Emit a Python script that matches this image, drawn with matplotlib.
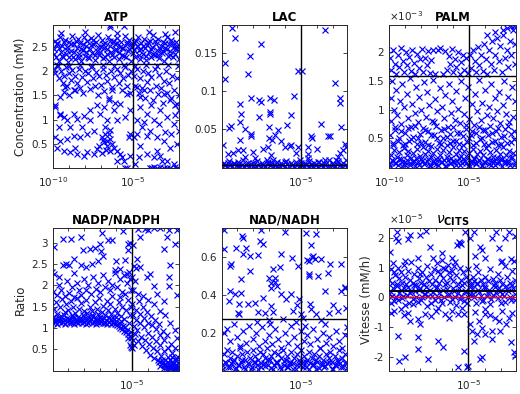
import matplotlib
matplotlib.use("Agg")
import matplotlib.pyplot as plt
import numpy as np
from matplotlib.ticker import FixedLocator, NullFormatter, FuncFormatter

# x values are stored as log10 exponents, y values in plotted units
# (PALM in 1e-3 mM, v_CITS in 1e-5 mM/h)

# ---------------- ATP ----------------
atp_band_logx = [-9.95, -9.88, -9.8, -9.72, -9.65, -9.57, -9.5, -9.42, -9.35, -9.27,
                 -9.2, -9.12, -9.05, -8.97, -8.9, -8.82, -8.75, -8.67, -8.6, -8.52,
                 -8.45, -8.37, -8.3, -8.22, -8.15, -8.07, -8.0, -7.92, -7.85, -7.77,
                 -7.7, -7.62, -7.55, -7.47, -7.4, -7.32, -7.25, -7.17, -7.1, -7.02,
                 -6.95, -6.87, -6.8, -6.72, -6.65, -6.57, -6.5, -6.42, -6.35, -6.27,
                 -6.2, -6.12, -6.05, -5.97, -5.9, -5.82, -5.75, -5.67, -5.6, -5.52,
                 -5.45, -5.37, -5.3, -5.22, -5.15, -5.07, -5.0, -4.92, -4.85, -4.77,
                 -4.7, -4.62, -4.55, -4.47, -4.4, -4.32, -4.25, -4.17, -4.1, -4.02,
                 -3.95, -3.87, -3.8, -3.72, -3.65, -3.57, -3.5, -3.42, -3.35, -3.27,
                 -3.2, -3.12, -3.05, -2.97, -2.9, -2.82, -2.75, -2.67, -2.6, -2.52,
                 -2.45, -2.37, -2.3, -2.22, -2.15]
atp_band_y = [2.45, 2.62, 2.3, 2.55, 2.2, 2.7, 2.4, 2.52, 2.28, 2.65,
              2.36, 2.5, 2.18, 2.6, 2.42, 2.72, 2.3, 2.55, 2.25, 2.48,
              2.66, 2.35, 2.58, 2.2, 2.44, 2.7, 2.32, 2.52, 2.62, 2.27,
              2.46, 2.68, 2.38, 2.56, 2.22, 2.6, 2.42, 2.75, 2.33, 2.5,
              2.64, 2.26, 2.47, 2.58, 2.36, 2.7, 2.2, 2.52, 2.4, 2.62,
              2.3, 2.55, 2.45, 2.68, 2.24, 2.5, 2.6, 2.34, 2.48, 2.72,
              2.28, 2.56, 2.42, 2.64, 2.2, 2.5, 2.38, 2.6, 2.3, 2.52,
              2.7, 2.44, 2.25, 2.58, 2.36, 2.66, 2.48, 2.22, 2.54, 2.4,
              2.62, 2.3, 2.5, 2.74, 2.34, 2.56, 2.44, 2.66, 2.26, 2.52,
              2.38, 2.6, 2.2, 2.48, 2.7, 2.32, 2.55, 2.42, 2.64, 2.28,
              2.5, 2.36, 2.6, 2.45, 2.25]
atp_band2_logx = [-9.92, -9.75, -9.6, -9.45, -9.3, -9.15, -9.0, -8.85, -8.7, -8.55,
                  -8.4, -8.25, -8.1, -7.95, -7.8, -7.65, -7.5, -7.35, -7.2, -7.05,
                  -6.9, -6.75, -6.6, -6.45, -6.3, -6.15, -6.0, -5.85, -5.7, -5.55,
                  -5.4, -5.25, -5.1, -4.95, -4.8, -4.65, -4.5, -4.35, -4.2, -4.05,
                  -3.9, -3.75, -3.6, -3.45, -3.3, -3.15, -3.0, -2.85, -2.7, -2.55,
                  -2.4, -2.25]
atp_band2_y = [2.35, 2.58, 2.48, 2.32, 2.6, 2.44, 2.3, 2.56, 2.4, 2.62,
               2.28, 2.46, 2.56, 2.4, 2.3, 2.54, 2.64, 2.34, 2.5, 2.4,
               2.56, 2.3, 2.46, 2.62, 2.34, 2.44, 2.58, 2.38, 2.48, 2.32,
               2.6, 2.46, 2.56, 2.44, 2.62, 2.34, 2.46, 2.52, 2.32, 2.6,
               2.46, 2.36, 2.62, 2.34, 2.46, 2.42, 2.58, 2.46, 2.34, 2.58,
               2.46, 2.52]
atp_mid = [(-9.95, 2.05), (-9.85, 1.95), (-9.7, 2.1), (-9.6, 1.85), (-9.5, 2.0), (-9.4, 1.75),
           (-9.3, 1.9), (-9.2, 2.08), (-9.1, 1.7), (-9.0, 1.95), (-8.9, 1.82), (-8.8, 2.02),
           (-8.7, 1.6), (-8.6, 1.9), (-8.5, 1.75), (-8.4, 2.05), (-8.3, 1.65), (-8.2, 1.88),
           (-8.1, 1.55), (-8.0, 2.0), (-7.9, 1.78), (-7.8, 1.95), (-7.7, 1.62), (-7.6, 2.08),
           (-7.5, 1.85), (-7.4, 1.7), (-7.3, 1.98), (-7.2, 1.5), (-7.1, 1.9), (-7.0, 1.72),
           (-6.9, 2.05), (-6.8, 1.58), (-6.7, 1.92), (-6.6, 1.8), (-6.5, 1.45), (-6.4, 2.0),
           (-6.3, 1.68), (-6.2, 1.88), (-6.1, 1.35), (-6.0, 2.05), (-5.9, 1.75), (-5.8, 1.95),
           (-5.7, 1.6), (-5.6, 1.85), (-5.5, 2.08), (-5.4, 1.7), (-5.3, 1.92), (-5.2, 1.55),
           (-5.1, 2.0), (-4.95, 1.9), (-4.85, 1.7), (-4.75, 2.05), (-4.65, 1.55), (-4.55, 1.85),
           (-4.45, 1.65), (-4.35, 2.0), (-4.25, 1.45), (-4.15, 1.78), (-4.05, 1.95), (-3.95, 1.6),
           (-3.85, 1.88), (-3.75, 1.4), (-3.65, 2.05), (-3.55, 1.7), (-3.45, 1.52), (-3.35, 1.92),
           (-3.25, 1.65), (-3.15, 1.35), (-3.05, 1.8), (-2.95, 2.0), (-2.85, 1.55), (-2.75, 1.75),
           (-2.65, 1.45), (-2.55, 1.9), (-2.45, 1.6), (-2.35, 1.3), (-2.25, 1.85), (-2.15, 1.5),
           (-9.75, 2.12), (-9.0, 2.1), (-8.3, 2.12), (-7.55, 2.1), (-6.85, 2.13), (-6.2, 2.1),
           (-5.55, 2.12), (-4.9, 2.1), (-4.2, 2.13), (-3.5, 2.1), (-2.8, 2.12), (-2.2, 2.1),
           (-6.42, 2.95), (-6.42, 2.9), (-5.54, 2.93), (-9.5, 2.78), (-8.0, 2.8), (-6.0, 2.78),
           (-4.0, 2.8), (-3.0, 2.77), (-2.4, 2.8)]
atp_low = [(-9.85, 1.26), (-9.54, 1.12), (-9.58, 1.1), (-9.33, 1.05), (-9.65, 0.84), (-9.13, 0.98),
           (-8.71, 1.12), (-8.5, 1.01), (-8.08, 1.08), (-7.67, 1.19), (-7.25, 1.29), (-7.04, 1.12),
           (-6.63, 0.98), (-6.73, 0.84), (-6.52, 0.7), (-6.42, 0.6), (-6.31, 0.49), (-6.21, 0.42),
           (-6.0, 0.35), (-5.79, 0.28), (-5.69, 0.22), (-5.58, 0.15), (-5.48, 0.01), (-6.94, 0.63),
           (-6.83, 0.53), (-6.63, 0.46), (-7.46, 0.77), (-7.88, 0.7), (-8.29, 0.63), (-8.71, 0.67),
           (-9.13, 0.6), (-9.54, 0.56), (-9.85, 0.63), (-9.75, 0.42), (-9.33, 0.35), (-8.92, 0.32),
           (-8.5, 0.28), (-8.08, 0.25), (-7.88, 0.32), (-8.6, 0.42), (-7.46, 0.28), (-7.25, 0.39),
           (-6.42, 0.35), (-5.17, 0.7), (-5.27, 0.63), (-5.17, 0.25), (-6.0, 0.15), (-5.38, 0.01),
           (-9.23, 1.67), (-9.33, 1.57), (-9.02, 1.5), (-8.6, 1.6), (-6.31, 1.6), (-6.52, 1.4),
           (-6.83, 1.26), (-6.21, 1.19), (-5.79, 1.33), (-5.38, 1.53), (-9.54, 1.47), (-9.9, 1.3),
           (-7.67, 0.98), (-8.19, 0.84), (-8.92, 0.84), (-6.0, 0.98), (-5.48, 1.05), (-5.17, 1.19),
           (-6.9, 0.58), (-6.75, 0.7), (-6.6, 0.55), (-6.45, 0.78), (-7.1, 0.45), (-6.95, 0.3),
           (-6.7, 0.38)]
atp_right_low = [(-4.75, 1.67), (-4.54, 1.47), (-4.33, 1.6), (-3.08, 1.53), (-2.67, 1.4), (-2.25, 1.33),
                 (-4.54, 1.26), (-4.13, 1.12), (-3.71, 0.98), (-3.29, 1.19), (-2.88, 1.05), (-2.46, 0.91),
                 (-2.15, 0.77), (-4.75, 0.98), (-4.44, 0.84), (-3.92, 0.77), (-3.5, 0.63), (-3.08, 0.56),
                 (-2.67, 0.42), (-2.25, 0.49), (-4.54, 0.46), (-4.13, 0.28), (-3.71, 0.22), (-3.29, 0.25),
                 (-2.88, 0.15), (-2.46, 0.08), (-3.92, 0.01), (-3.5, 0.01), (-3.08, 0.01), (-2.67, 0.01),
                 (-2.25, 0.01), (-4.65, 0.22), (-4.85, 0.08), (-2.15, 1.19), (-4.96, 0.63), (-2.98, 0.74),
                 (-4.12, 0.67), (-3.5, 0.35), (-3.19, 0.15), (-3.81, 0.01), (-3.67, 0.02), (-3.29, 0.02),
                 (-2.88, 0.0), (-2.35, 0.02), (-4.75, 0.7), (-3.9, 1.3), (-3.4, 0.9), (-2.6, 0.7),
                 (-4.3, 0.95), (-2.4, 1.1)]

# ---------------- LAC ----------------
lac_sparse = [(-9.29, 0.1825), (-9.13, 0.1693), (-7.46, 0.1618), (-8.15, 0.146), (-9.75, 0.1364),
              (-8.29, 0.1232), (-9.75, 0.1154), (-5.17, 0.1268), (-4.92, 0.1268), (-3.46, 0.1803),
              (-2.83, 0.111), (-2.56, 0.0904), (-2.56, 0.0847), (-8.13, 0.0912), (-7.63, 0.089),
              (-7.46, 0.0855), (-6.94, 0.0912), (-6.67, 0.0882), (-5.42, 0.0934), (-8.77, 0.0829),
              (-8.71, 0.0706), (-6.94, 0.0728), (-6.94, 0.0697), (-7.63, 0.0662), (-5.58, 0.0684),
              (-8.81, 0.0596), (-9.33, 0.054), (-9.48, 0.0522), (-8.5, 0.0509), (-6.98, 0.0531),
              (-5.85, 0.0561), (-8.08, 0.0443), (-8.08, 0.0412), (-6.42, 0.0487), (-6.63, 0.0421),
              (-3.71, 0.0566), (-4.33, 0.0412), (-4.29, 0.039), (-3.29, 0.0408), (-3.19, 0.0408),
              (-2.46, 0.0531), (-9.85, 0.0289), (-8.81, 0.0364), (-7.0, 0.039), (-6.79, 0.0364),
              (-6.25, 0.0346), (-8.6, 0.0232), (-8.92, 0.0224), (-9.23, 0.0189), (-9.54, 0.018),
              (-7.98, 0.0202), (-7.88, 0.0127), (-7.35, 0.0246), (-7.04, 0.0268), (-6.0, 0.0268),
              (-5.69, 0.0276), (-5.58, 0.0289), (-5.17, 0.0268), (-4.54, 0.0268), (-3.96, 0.0246),
              (-4.54, 0.018), (-4.54, 0.0127), (-5.27, 0.0189), (-8.5, 0.0136), (-6.83, 0.0158),
              (-6.73, 0.0101), (-2.25, 0.0311), (-2.15, 0.0268), (-2.35, 0.0224), (-2.56, 0.0189),
              (-2.67, 0.0136), (-2.77, 0.0092), (-3.5, 0.0092), (-3.92, 0.007), (-7.04, 0.007),
              (-9.54, 0.0057), (-8.92, 0.0048), (-8.08, 0.0048), (-6.0, 0.007), (-4.96, 0.0057),
              (-4.33, 0.0039)]
lac_floor_logx = [-9.9, -9.75, -9.6, -9.45, -9.3, -9.15, -9.0, -8.85, -8.7, -8.55,
                  -8.4, -8.25, -8.1, -7.95, -7.8, -7.65, -7.5, -7.35, -7.2, -7.05,
                  -6.9, -6.75, -6.6, -6.45, -6.3, -6.15, -6.0, -5.85, -5.7, -5.55,
                  -5.4, -5.25, -5.1, -4.95, -4.8, -4.65, -4.5, -4.35, -4.2, -4.05,
                  -3.9, -3.75, -3.6, -3.45, -3.3, -3.15, -3.0, -2.85, -2.7, -2.55,
                  -2.4, -2.25, -2.12]
lac_floor_y = [0.002, 0.0035, 0.001, 0.003, 0.0015, 0.004, 0.0025, 0.001, 0.0035, 0.002,
               0.003, 0.0012, 0.0038, 0.0022, 0.0015, 0.0032, 0.001, 0.0028, 0.0018, 0.004,
               0.0025, 0.0012, 0.0034, 0.002, 0.0015, 0.003, 0.0022, 0.0038, 0.001, 0.0026,
               0.0018, 0.0033, 0.0012, 0.0028, 0.002, 0.0036, 0.0015, 0.0024, 0.001, 0.0031,
               0.0019, 0.0027, 0.0014, 0.0035, 0.0022, 0.001, 0.003, 0.0017, 0.0038, 0.0025,
               0.0012, 0.0032, 0.002]
lac_floor2 = [(-9.82, 0.006), (-9.5, 0.008), (-9.2, 0.005), (-8.9, 0.007), (-8.6, 0.009), (-8.3, 0.006),
              (-8.0, 0.005), (-7.7, 0.008), (-7.4, 0.006), (-7.1, 0.009), (-6.8, 0.005), (-6.5, 0.007),
              (-6.2, 0.006), (-5.9, 0.008), (-5.6, 0.005), (-5.3, 0.007), (-5.05, 0.009), (-4.75, 0.006),
              (-4.45, 0.008), (-4.15, 0.005), (-3.85, 0.007), (-3.55, 0.006), (-3.25, 0.009),
              (-2.95, 0.005), (-2.65, 0.008), (-2.35, 0.006), (-2.15, 0.009)]

# ---------------- PALM (x 1e-3) ----------------
palm_bot_logx = [-9.97, -9.88, -9.8, -9.7, -9.62, -9.52, -9.43, -9.35, -9.25, -9.16,
                 -9.07, -8.98, -8.9, -8.8, -8.71, -8.62, -8.53, -8.44, -8.35, -8.26,
                 -8.17, -8.08, -7.99, -7.9, -7.81, -7.72, -7.63, -7.54, -7.45, -7.36,
                 -7.27, -7.18, -7.09, -7.0, -6.91, -6.82, -6.73, -6.64, -6.55, -6.46,
                 -6.37, -6.28, -6.19, -6.1, -6.01, -5.92, -5.83, -5.74, -5.65, -5.56,
                 -5.47, -5.38, -5.29, -5.2, -5.11, -5.02, -4.93, -4.84, -4.75, -4.66,
                 -4.57, -4.48, -4.39, -4.3, -4.21, -4.12, -4.03, -3.94, -3.85, -3.76,
                 -3.67, -3.58, -3.49, -3.4, -3.31, -3.22, -3.13, -3.04, -2.95, -2.86,
                 -2.77, -2.68, -2.59, -2.5, -2.41, -2.32, -2.23, -2.14]
palm_bot_y = [0.05, 0.21, 0.12, 0.3, 0.07, 0.18, 0.03, 0.26, 0.14, 0.09,
              0.33, 0.04, 0.2, 0.27, 0.06, 0.16, 0.24, 0.11, 0.02, 0.31,
              0.08, 0.19, 0.13, 0.35, 0.05, 0.23, 0.1, 0.28, 0.03, 0.17,
              0.25, 0.07, 0.14, 0.32, 0.04, 0.21, 0.09, 0.29, 0.12, 0.02,
              0.18, 0.26, 0.06, 0.15, 0.34, 0.08, 0.22, 0.11, 0.3, 0.04,
              0.19, 0.13, 0.27, 0.06, 0.17, 0.24, 0.02, 0.1, 0.31, 0.15,
              0.07, 0.23, 0.12, 0.28, 0.04, 0.2, 0.09, 0.33, 0.14, 0.05,
              0.26, 0.11, 0.18, 0.03, 0.29, 0.16, 0.08, 0.22, 0.13, 0.35,
              0.06, 0.2, 0.1, 0.27, 0.03, 0.17, 0.24, 0.09]
palm_bot2_logx = [-9.93, -9.75, -9.57, -9.39, -9.21, -9.03, -8.85, -8.67, -8.49, -8.31,
                  -8.13, -7.95, -7.77, -7.59, -7.41, -7.23, -7.05, -6.87, -6.69, -6.51,
                  -6.33, -6.15, -5.97, -5.79, -5.61, -5.43, -5.25, -5.07, -4.89, -4.71,
                  -4.53, -4.35, -4.17, -3.99, -3.81, -3.63, -3.45, -3.27, -3.09, -2.91,
                  -2.73, -2.55, -2.37, -2.19]
palm_bot2_y = [0.02, 0.1, 0.06, 0.14, 0.01, 0.08, 0.12, 0.04, 0.09, 0.15,
               0.03, 0.11, 0.07, 0.13, 0.02, 0.1, 0.05, 0.14, 0.08, 0.01,
               0.12, 0.06, 0.1, 0.03, 0.15, 0.07, 0.11, 0.02, 0.09, 0.13,
               0.05, 0.12, 0.01, 0.08, 0.14, 0.04, 0.1, 0.06, 0.13, 0.02,
               0.11, 0.07, 0.15, 0.04]
palm_mid = [(-9.95, 0.55), (-9.9, 1.2), (-9.85, 0.8), (-9.8, 1.5), (-9.72, 0.42), (-9.66, 1.0),
            (-9.6, 0.65), (-9.55, 1.35), (-9.48, 0.9), (-9.4, 0.5), (-9.33, 1.15), (-9.27, 0.75),
            (-9.2, 1.45), (-9.12, 0.38), (-9.05, 1.05), (-8.98, 0.6), (-8.9, 1.28), (-8.83, 0.85),
            (-8.77, 0.45), (-8.7, 1.55), (-8.62, 0.7), (-8.55, 1.1), (-8.48, 0.52), (-8.4, 0.95),
            (-8.33, 1.4), (-8.26, 0.4), (-8.2, 0.78), (-8.12, 1.22), (-8.05, 0.58), (-7.98, 1.0),
            (-7.9, 0.68), (-7.83, 1.48), (-7.76, 0.44), (-7.7, 0.88), (-7.62, 1.3), (-7.55, 0.62),
            (-7.48, 1.08), (-7.4, 0.36), (-7.33, 0.8), (-7.26, 1.52), (-7.2, 0.55), (-7.12, 1.18),
            (-7.05, 0.72), (-6.98, 0.98), (-6.9, 0.42), (-6.83, 1.38), (-6.76, 0.64), (-6.7, 1.05),
            (-6.62, 0.5), (-6.55, 0.86), (-6.48, 1.25), (-6.4, 0.38), (-6.33, 0.7), (-6.26, 1.45),
            (-6.2, 0.58), (-6.12, 0.95), (-6.05, 1.15), (-5.98, 0.46), (-5.9, 0.82), (-5.83, 1.32),
            (-5.76, 0.6), (-5.7, 1.02), (-5.62, 0.4), (-5.55, 0.76), (-5.48, 1.5), (-5.4, 0.54),
            (-5.33, 0.92), (-5.26, 1.2), (-5.2, 0.66), (-5.12, 0.44), (-5.05, 1.4), (-4.98, 0.84),
            (-4.9, 0.56), (-4.83, 1.1), (-4.76, 0.38), (-4.7, 0.74), (-4.62, 1.28), (-4.55, 0.6),
            (-4.48, 0.98), (-4.4, 1.52), (-4.33, 0.48), (-4.26, 0.82), (-4.2, 1.12), (-4.12, 0.64),
            (-4.05, 0.4), (-3.98, 1.35), (-3.9, 0.9), (-3.83, 0.56), (-3.76, 1.05), (-3.7, 0.72),
            (-3.62, 1.45), (-3.55, 0.44), (-3.48, 0.86), (-3.4, 1.2), (-3.33, 0.62), (-3.26, 0.98),
            (-3.2, 0.38), (-3.12, 1.3), (-3.05, 0.76), (-2.98, 0.52), (-2.9, 1.08), (-2.83, 1.5),
            (-2.76, 0.66), (-2.7, 0.92), (-2.62, 0.42), (-2.55, 1.22), (-2.48, 0.78), (-2.4, 0.58),
            (-2.33, 1.4), (-2.26, 0.88), (-2.2, 0.48), (-2.13, 1.15),
            (-9.78, 0.38), (-9.6, 0.7), (-9.42, 0.45), (-9.22, 0.62), (-9.0, 0.4), (-8.8, 0.68),
            (-8.6, 0.48), (-8.38, 0.72), (-8.18, 0.5), (-7.97, 0.42), (-7.78, 0.64), (-7.58, 0.38),
            (-7.38, 0.56), (-7.18, 0.78), (-6.97, 0.5), (-6.78, 0.4), (-6.58, 0.66), (-6.38, 0.52),
            (-6.17, 0.42), (-5.97, 0.7), (-5.78, 0.46), (-5.58, 0.6), (-5.38, 0.38), (-5.18, 0.74),
            (-4.97, 0.5), (-4.78, 0.62), (-4.58, 0.42), (-4.38, 0.7), (-4.17, 0.5), (-3.97, 0.64),
            (-3.78, 0.38), (-3.58, 0.6), (-3.38, 0.46), (-3.18, 0.68), (-2.98, 0.4), (-2.78, 0.54),
            (-2.58, 0.72), (-2.38, 0.44), (-2.18, 0.62)]
palm_top = [(-9.95, 1.9), (-9.85, 1.7), (-9.75, 2.05), (-9.65, 1.8), (-9.55, 1.62), (-9.45, 1.95),
            (-9.35, 1.75), (-9.25, 2.08), (-9.15, 1.85), (-9.05, 1.65), (-8.95, 2.0), (-8.85, 1.78),
            (-8.75, 1.92), (-8.65, 1.68), (-8.55, 2.05), (-8.45, 1.82), (-8.35, 1.62), (-8.25, 1.98),
            (-8.15, 1.72), (-8.05, 1.88), (-7.95, 2.06), (-7.85, 1.66), (-7.75, 1.9), (-7.65, 1.78),
            (-7.55, 2.02), (-7.45, 1.64), (-7.35, 1.86), (-7.25, 2.05), (-7.1, 1.62), (-6.95, 2.04),
            (-6.8, 2.07), (-6.65, 1.63), (-6.5, 2.02), (-6.38, 1.7), (-6.28, 1.94), (-6.18, 1.8),
            (-6.08, 2.06), (-5.98, 1.66), (-5.88, 1.88), (-5.78, 1.74), (-5.68, 2.0), (-5.58, 1.62),
            (-5.48, 1.84), (-5.38, 1.96), (-5.28, 1.7), (-5.18, 1.9), (-5.08, 1.64),
            (-4.95, 1.95), (-4.85, 1.72), (-4.75, 2.05), (-4.65, 1.85), (-4.55, 1.65), (-4.45, 2.1),
            (-4.35, 1.78), (-4.25, 1.95), (-4.15, 1.68), (-4.05, 2.15), (-3.95, 1.88), (-3.85, 1.62),
            (-3.75, 2.05), (-3.65, 1.8), (-3.55, 2.2), (-3.45, 1.7), (-3.35, 1.95), (-3.25, 2.25),
            (-3.15, 1.85), (-3.05, 2.12), (-2.95, 1.65), (-2.85, 2.3), (-2.75, 1.9), (-2.65, 2.05),
            (-2.55, 1.75), (-2.45, 2.2), (-2.35, 1.95), (-2.25, 2.4), (-2.15, 1.8), (-2.12, 2.15),
            (-3.9, 2.3), (-3.4, 2.35), (-2.6, 2.42), (-2.4, 2.46), (-2.2, 2.47), (-2.9, 2.4)]

# ---------------- NADP/NADPH ----------------
nadp_floor_logx = [-9.9, -9.78, -9.66, -9.54, -9.42, -9.3, -9.18, -9.06, -8.94, -8.82,
                   -8.7, -8.58, -8.46, -8.34, -8.22, -8.1, -7.98, -7.86, -7.74, -7.62,
                   -7.5, -7.38, -7.26, -7.14, -7.02, -6.9, -6.78, -6.66, -6.54, -6.42,
                   -6.3, -6.18, -6.06, -5.94, -5.82, -5.7, -5.58, -5.46, -5.34, -5.22,
                   -5.1, -5.02]
nadp_floor_y = [1.1, 1.14, 1.09, 1.16, 1.11, 1.13, 1.09, 1.15, 1.1, 1.12,
                1.17, 1.09, 1.13, 1.11, 1.15, 1.1, 1.14, 1.09, 1.12, 1.16,
                1.1, 1.13, 1.09, 1.15, 1.11, 1.14, 1.1, 1.12, 1.09, 1.13,
                1.08, 1.11, 1.08, 1.06, 1.03, 1.0, 0.97, 0.93, 0.89, 0.85,
                0.8, 0.76]
nadp_dense = [(-9.95, 1.25), (-9.88, 1.45), (-9.8, 1.2), (-9.72, 1.6), (-9.65, 1.32), (-9.57, 1.22),
              (-9.5, 1.5), (-9.42, 1.28), (-9.35, 1.68), (-9.27, 1.2), (-9.2, 1.38), (-9.12, 1.55),
              (-9.05, 1.24), (-8.97, 1.42), (-8.9, 1.2), (-8.82, 1.62), (-8.75, 1.3), (-8.67, 1.48),
              (-8.6, 1.22), (-8.52, 1.35), (-8.45, 1.7), (-8.37, 1.26), (-8.3, 1.45), (-8.22, 1.2),
              (-8.15, 1.58), (-8.07, 1.3), (-8.0, 1.4), (-7.92, 1.22), (-7.85, 1.65), (-7.77, 1.34),
              (-7.7, 1.25), (-7.62, 1.5), (-7.55, 1.2), (-7.47, 1.4), (-7.4, 1.28), (-7.32, 1.6),
              (-7.25, 1.22), (-7.17, 1.45), (-7.1, 1.32), (-7.02, 1.7), (-6.95, 1.25), (-6.87, 1.38),
              (-6.8, 1.52), (-6.72, 1.22), (-6.65, 1.3), (-6.57, 1.62), (-6.5, 1.42), (-6.42, 1.24),
              (-6.35, 1.55), (-6.27, 1.32), (-6.2, 1.75), (-6.12, 1.2), (-6.05, 1.45), (-5.97, 1.15),
              (-5.9, 1.35), (-5.82, 1.6), (-5.75, 1.1), (-5.67, 1.28), (-5.6, 1.5), (-5.52, 1.05),
              (-5.45, 1.2), (-5.37, 1.42), (-5.3, 0.95), (-5.22, 1.65), (-5.15, 1.1), (-5.1, 1.3),
              (-5.05, 0.9), (-5.02, 1.5), (-9.85, 1.18), (-9.6, 1.19), (-9.25, 1.3), (-8.95, 1.18),
              (-8.7, 1.25), (-8.4, 1.18), (-8.1, 1.2), (-7.8, 1.18), (-7.5, 1.3), (-7.2, 1.18),
              (-6.9, 1.2), (-6.6, 1.18), (-6.3, 1.2), (-6.0, 1.25), (-5.65, 1.15), (-5.4, 1.02),
              (-5.2, 0.75), (-5.1, 0.6), (-5.05, 0.55)]
nadp_upper = [(-9.9, 1.85), (-9.7, 1.78), (-9.55, 2.0), (-9.4, 1.9), (-9.2, 1.75), (-9.05, 2.1),
              (-8.9, 1.82), (-8.75, 1.95), (-8.6, 1.72), (-8.45, 2.05), (-8.3, 1.88), (-8.15, 1.76),
              (-8.0, 2.15), (-7.85, 1.9), (-7.7, 2.0), (-7.55, 1.8), (-7.4, 2.2), (-7.25, 1.92),
              (-7.1, 2.05), (-6.95, 1.85), (-6.8, 2.25), (-6.65, 1.95), (-6.5, 2.1), (-6.35, 1.88),
              (-6.2, 2.0), (-6.05, 2.3), (-5.9, 1.95), (-5.75, 2.15), (-5.6, 1.85), (-5.45, 2.25),
              (-5.3, 2.05), (-5.15, 2.32), (-5.05, 1.9), (-5.1, 2.15), (-5.4, 1.8), (-5.7, 1.72)]
nadp_sparse = [(-9.84, 2.9), (-9.32, 3.09), (-8.79, 3.09), (-8.16, 3.13), (-8.05, 2.82), (-7.63, 2.86),
               (-7.32, 2.88), (-6.83, 3.23), (-6.47, 3.06), (-6.26, 3.07), (-5.53, 3.29), (-5.21, 2.98),
               (-5.21, 2.82), (-7.0, 2.98), (-7.11, 2.58), (-6.79, 2.7), (-8.16, 2.47), (-7.84, 2.43),
               (-9.32, 2.47), (-8.89, 2.47), (-9.84, 2.27), (-9.53, 2.19), (-6.05, 2.35), (-5.74, 2.39),
               (-5.32, 2.27), (-5.95, 2.58), (-8.58, 2.62), (-9.1, 2.5), (-8.6, 2.3), (-7.5, 2.5),
               (-6.9, 2.8), (-5.4, 2.6), (-5.1, 3.0), (-9.97, 2.32),
               (-4.58, 3.33), (-4.16, 3.33), (-3.21, 3.35), (-2.68, 3.31), (-2.16, 3.31), (-2.79, 3.13),
               (-4.47, 3.13), (-3.0, 2.86), (-2.26, 2.98), (-2.58, 2.47), (-2.68, 2.19), (-2.16, 1.76),
               (-2.68, 1.99), (-4.47, 2.43), (-4.05, 2.19), (-3.63, 1.99), (-3.42, 1.8), (-3.0, 1.64),
               (-4.68, 2.62), (-3.84, 2.27), (-4.9, 2.95), (-4.0, 3.3), (-3.6, 3.34)]
nadp_right = [(-4.95, 1.55), (-4.9, 1.3), (-4.85, 1.05), (-4.8, 0.85), (-4.92, 0.7), (-4.75, 1.42),
              (-4.7, 1.18), (-4.65, 0.95), (-4.6, 0.68), (-4.55, 1.62), (-4.5, 1.33), (-4.45, 1.12),
              (-4.4, 0.78), (-4.35, 0.58), (-4.3, 1.48), (-4.25, 1.22), (-4.2, 1.02), (-4.15, 0.72),
              (-4.1, 0.48), (-4.05, 1.38), (-4.0, 1.12), (-3.95, 0.88), (-3.9, 0.62), (-3.85, 0.36),
              (-3.8, 1.28), (-3.75, 1.06), (-3.7, 0.78), (-3.65, 0.52), (-3.6, 0.28), (-3.55, 1.18),
              (-3.5, 0.96), (-3.45, 0.68), (-3.4, 0.44), (-3.35, 0.24), (-3.3, 1.08), (-3.25, 0.82),
              (-3.2, 0.6), (-3.15, 0.34), (-3.1, 0.16), (-3.05, 0.92), (-3.0, 0.72), (-2.95, 0.46),
              (-2.9, 0.24), (-2.85, 0.1), (-2.8, 0.82), (-2.75, 0.52), (-2.7, 0.32), (-2.65, 0.12),
              (-2.6, 0.05), (-2.55, 0.62), (-2.5, 0.4), (-2.45, 0.2), (-2.4, 0.08), (-2.35, 0.02),
              (-2.3, 0.52), (-2.25, 0.28), (-2.2, 0.12), (-2.15, 0.04), (-2.1, 0.18),
              (-3.0, 0.05), (-2.9, 0.15), (-2.8, 0.02), (-2.75, 0.2), (-2.68, 0.08), (-2.62, 0.25),
              (-2.55, 0.04), (-2.5, 0.14), (-2.45, 0.3), (-2.4, 0.02), (-2.35, 0.18), (-2.3, 0.06),
              (-2.25, 0.12), (-2.2, 0.24), (-2.17, 0.01), (-2.12, 0.1), (-2.1, 0.3), (-2.08, 0.05),
              (-3.2, 0.1), (-3.3, 0.2), (-3.1, 0.25), (-2.95, 0.12), (-4.97, 0.52), (-4.88, 0.6),
              (-4.9, 1.9), (-4.8, 2.1), (-4.6, 1.8), (-4.3, 1.75), (-4.0, 1.65), (-3.6, 1.55),
              (-3.2, 1.4), (-2.9, 1.3), (-2.6, 1.1), (-2.3, 0.95), (-2.15, 0.75), (-4.7, 2.4),
              (-4.95, 2.2), (-4.85, 2.45)]

# ---------------- NAD/NADH ----------------
nad_sparse = [(-9.81, 0.745), (-9.81, 0.642), (-8.65, 0.712), (-8.63, 0.702), (-7.46, 0.742), (-6.0, 0.735),
              (-9.02, 0.647), (-8.44, 0.647), (-8.6, 0.619), (-8.15, 0.607), (-7.67, 0.612), (-7.56, 0.686),
              (-7.35, 0.672), (-6.21, 0.619), (-6.31, 0.549), (-6.73, 0.54), (-6.63, 0.493), (-6.83, 0.467),
              (-6.83, 0.44), (-5.52, 0.598), (-5.17, 0.554), (-4.65, 0.73), (-4.02, 0.725), (-4.33, 0.665),
              (-4.6, 0.584), (-4.23, 0.607), (-4.12, 0.589), (-3.71, 0.589), (-4.48, 0.51), (-3.29, 0.519),
              (-3.19, 0.563), (-2.46, 0.563), (-2.25, 0.44), (-2.2, 0.445), (-2.46, 0.423), (-9.44, 0.554),
              (-9.33, 0.563), (-8.19, 0.528), (-8.71, 0.484), (-9.44, 0.423), (-9.13, 0.405), (-8.71, 0.414),
              (-9.48, 0.37), (-8.85, 0.353), (-8.9, 0.306), (-8.85, 0.3), (-8.29, 0.353), (-7.88, 0.361),
              (-7.35, 0.388), (-6.83, 0.344), (-6.73, 0.309), (-7.25, 0.304), (-7.67, 0.309), (-6.21, 0.409),
              (-5.6, 0.405), (-5.5, 0.318), (-5.23, 0.349), (-4.44, 0.353), (-4.33, 0.326), (-4.02, 0.3),
              (-3.23, 0.304), (-2.67, 0.318), (-2.15, 0.335), (-6.98, 0.268), (-6.1, 0.274), (-4.85, 0.282),
              (-3.71, 0.268), (-2.1, 0.233), (-4.45, 0.58), (-4.3, 0.6), (-4.5, 0.5), (-6.5, 0.45),
              (-6.6, 0.47), (-5.9, 0.38), (-5.0, 0.3), (-5.1, 0.38), (-7.0, 0.49), (-3.9, 0.5),
              (-3.5, 0.42), (-3.0, 0.35)]
nad_mid = [(-9.77, 0.2), (-9.6, 0.22), (-9.4, 0.16), (-9.2, 0.25), (-9.0, 0.18), (-8.8, 0.13),
           (-8.6, 0.21), (-8.4, 0.15), (-8.2, 0.24), (-8.0, 0.17), (-7.8, 0.2), (-7.6, 0.13),
           (-7.4, 0.23), (-7.2, 0.16), (-7.0, 0.19), (-6.8, 0.14), (-6.6, 0.22), (-6.4, 0.17),
           (-6.2, 0.12), (-6.0, 0.2), (-5.8, 0.15), (-5.6, 0.24), (-5.4, 0.18), (-5.2, 0.13),
           (-5.0, 0.21), (-4.8, 0.16), (-4.6, 0.19), (-4.4, 0.14), (-4.2, 0.22), (-4.0, 0.17),
           (-3.8, 0.12), (-3.6, 0.2), (-3.4, 0.15), (-3.2, 0.18), (-3.0, 0.13), (-2.8, 0.21),
           (-2.6, 0.16), (-2.4, 0.12), (-2.2, 0.19), (-7.7, 0.26), (-6.9, 0.25), (-5.3, 0.26),
           (-4.7, 0.24), (-3.5, 0.25)]
nad_low_logx = [-9.9, -9.81, -9.72, -9.63, -9.54, -9.45, -9.36, -9.27, -9.18, -9.09,
                -9.0, -8.91, -8.82, -8.73, -8.64, -8.55, -8.46, -8.37, -8.28, -8.19,
                -8.1, -8.01, -7.92, -7.83, -7.74, -7.65, -7.56, -7.47, -7.38, -7.29,
                -7.2, -7.11, -7.02, -6.93, -6.84, -6.75, -6.66, -6.57, -6.48, -6.39,
                -6.3, -6.21, -6.12, -6.03, -5.94, -5.85, -5.76, -5.67, -5.58, -5.49,
                -5.4, -5.31, -5.22, -5.13, -5.04, -4.95, -4.86, -4.77, -4.68, -4.59,
                -4.5, -4.41, -4.32, -4.23, -4.14, -4.05, -3.96, -3.87, -3.78, -3.69,
                -3.6, -3.51, -3.42, -3.33, -3.24, -3.15, -3.06, -2.97, -2.88, -2.79,
                -2.7, -2.61, -2.52, -2.43, -2.34, -2.25, -2.16]
nad_low_y = [0.03, 0.09, 0.05, 0.11, 0.02, 0.07, 0.04, 0.1, 0.06, 0.01,
             0.08, 0.03, 0.12, 0.05, 0.09, 0.02, 0.06, 0.1, 0.04, 0.07,
             0.01, 0.11, 0.05, 0.08, 0.03, 0.06, 0.1, 0.02, 0.09, 0.04,
             0.07, 0.12, 0.03, 0.06, 0.08, 0.01, 0.1, 0.05, 0.04, 0.09,
             0.02, 0.07, 0.11, 0.03, 0.06, 0.08, 0.02, 0.05, 0.1, 0.04,
             0.07, 0.01, 0.09, 0.06, 0.03, 0.11, 0.05, 0.08, 0.02, 0.06,
             0.1, 0.04, 0.07, 0.03, 0.09, 0.01, 0.05, 0.08, 0.12, 0.03,
             0.06, 0.02, 0.09, 0.04, 0.07, 0.1, 0.05, 0.01, 0.08, 0.03,
             0.06, 0.11, 0.04, 0.07, 0.02, 0.09, 0.05]
nad_low2_logx = [-9.85, -9.65, -9.45, -9.25, -9.05, -8.85, -8.65, -8.45, -8.25, -8.05,
                 -7.85, -7.65, -7.45, -7.25, -7.05, -6.85, -6.65, -6.45, -6.25, -6.05,
                 -5.85, -5.65, -5.45, -5.25, -5.05, -4.85, -4.65, -4.45, -4.25, -4.05,
                 -3.85, -3.65, -3.45, -3.25, -3.05, -2.85, -2.65, -2.45, -2.25, -2.1]
nad_low2_y = [0.01, 0.04, 0.02, 0.05, 0.015, 0.03, 0.06, 0.01, 0.035, 0.02,
              0.05, 0.01, 0.04, 0.025, 0.06, 0.015, 0.03, 0.045, 0.01, 0.055,
              0.02, 0.04, 0.01, 0.03, 0.05, 0.02, 0.045, 0.01, 0.035, 0.06,
              0.015, 0.04, 0.025, 0.05, 0.01, 0.03, 0.055, 0.02, 0.04, 0.015]

# ---------------- v_CITS (x 1e-5) ----------------
vc_band_logx = [-9.95, -9.8, -9.65, -9.5, -9.35, -9.2, -9.05, -8.9, -8.75, -8.6,
                -8.45, -8.3, -8.15, -8.0, -7.85, -7.7, -7.55, -7.4, -7.25, -7.1,
                -6.95, -6.8, -6.65, -6.5, -6.35, -6.2, -6.05, -5.9, -5.75, -5.6,
                -5.45, -5.3, -5.15, -5.0, -4.85, -4.7, -4.55, -4.4, -4.25, -4.1,
                -3.95, -3.8, -3.65, -3.5, -3.35, -3.2, -3.05, -2.9, -2.75, -2.6,
                -2.45, -2.3, -2.15]
vc_band_y = [0.1, -0.2, 0.3, 0.0, -0.1, 0.25, 0.05, -0.25, 0.35, 0.15,
             -0.05, 0.2, -0.15, 0.3, 0.0, 0.1, -0.3, 0.25, 0.05, -0.1,
             0.35, 0.15, -0.2, 0.0, 0.28, 0.1, -0.05, 0.2, -0.25, 0.32,
             0.05, -0.12, 0.18, 0.0, 0.38, 0.12, -0.18, 0.25, 0.05, -0.08,
             0.3, 0.15, -0.22, 0.08, 0.35, -0.02, 0.2, 0.1, -0.15, 0.28,
             0.02, 0.4, -0.1]
vc_band2_logx = [-9.88, -9.73, -9.58, -9.43, -9.28, -9.13, -8.98, -8.83, -8.68, -8.53,
                 -8.38, -8.23, -8.08, -7.93, -7.78, -7.63, -7.48, -7.33, -7.18, -7.03,
                 -6.88, -6.73, -6.58, -6.43, -6.28, -6.13, -5.98, -5.83, -5.68, -5.53,
                 -5.38, -5.23, -5.08, -4.93, -4.78, -4.63, -4.48, -4.33, -4.18, -4.03,
                 -3.88, -3.73, -3.58, -3.43, -3.28, -3.13, -2.98, -2.83, -2.68, -2.53,
                 -2.38, -2.23, -2.11]
vc_band2_y = [0.22, 0.05, -0.12, 0.38, 0.15, -0.02, 0.3, 0.08, -0.18, 0.2,
              0.42, 0.0, 0.26, -0.08, 0.12, 0.35, 0.04, -0.2, 0.18, 0.3,
              0.0, -0.1, 0.24, 0.45, 0.08, -0.15, 0.32, 0.02, 0.15, -0.05,
              0.4, 0.22, -0.2, 0.1, 0.28, 0.0, 0.45, 0.18, -0.12, 0.36,
              0.06, 0.25, -0.05, 0.42, 0.15, 0.3, -0.2, 0.05, 0.38, 0.2,
              -0.08, 0.3, 0.12]
vc_mid = [(-9.9, 0.6), (-9.8, 0.95), (-9.72, 0.5), (-9.65, 1.15), (-9.55, 0.75), (-9.45, 0.45),
          (-9.38, 1.0), (-9.3, 0.65), (-9.2, 0.85), (-9.1, 0.5), (-9.0, 1.1), (-8.92, 0.7),
          (-8.85, 0.45), (-8.75, 0.9), (-8.65, 0.6), (-8.55, 1.2), (-8.45, 0.5), (-8.35, 0.8),
          (-8.25, 0.42), (-8.15, 1.0), (-8.05, 0.65), (-7.95, 0.5), (-7.85, 0.85), (-7.75, 0.45),
          (-7.65, 0.7), (-7.55, 1.05), (-7.45, 0.55), (-7.35, 0.8), (-7.25, 0.45), (-7.15, 0.95),
          (-7.05, 0.6), (-6.95, 1.15), (-6.85, 0.5), (-6.75, 0.8), (-6.65, 1.25), (-6.55, 0.65),
          (-6.45, 0.95), (-6.35, 0.48), (-6.25, 1.1), (-6.15, 0.7), (-6.05, 0.9), (-5.95, 0.55),
          (-5.85, 1.2), (-5.75, 0.75), (-5.65, 0.45), (-5.55, 1.0), (-5.45, 0.6), (-5.35, 0.85),
          (-5.25, 0.5), (-5.15, 0.7), (-5.05, 0.95), (-4.95, 0.6), (-4.85, 0.45), (-4.75, 0.7),
          (-4.65, 0.55), (-4.5, 0.5), (-4.4, 0.85), (-4.25, 0.6), (-4.1, 0.45), (-3.95, 0.7),
          (-3.8, 0.55), (-3.65, 0.95), (-3.5, 0.62), (-3.35, 0.48), (-3.2, 0.8), (-3.05, 0.58),
          (-2.9, 0.45), (-2.75, 1.05), (-2.6, 0.68), (-2.45, 0.5), (-2.3, 0.9), (-2.15, 0.6),
          (-6.6, 1.0), (-6.2, 0.85), (-5.9, 1.05), (-6.9, 0.9), (-9.6, 0.85), (-8.0, 0.78),
          (-4.55, 1.05), (-3.0, 1.2), (-2.35, 1.3)]
vc_sparse = [(-9.38, 1.9), (-9.42, 2.21), (-8.75, 1.97), (-8.65, 2.1), (-8.02, 2.1), (-7.4, 1.68),
             (-6.67, 1.49), (-7.6, 2.23), (-5.73, 1.77), (-5.52, 1.82), (-5.21, 2.21), (-4.69, 2.21),
             (-4.27, 1.68), (-4.17, 1.6), (-3.54, 1.99), (-2.5, 2.21), (-2.71, 1.99), (-3.12, 1.66),
             (-2.19, 1.21), (-9.83, 1.54), (-8.13, 1.32), (-7.19, 1.32), (-6.04, 1.32), (-4.58, 1.38),
             (-3.96, 1.32), (-2.92, 1.21), (-8.96, 1.21), (-5.6, 1.85), (-5.45, 1.8), (-9.5, 2.0),
             (-4.9, 2.0), (-3.3, 2.2), (-2.15, 2.05),
             (-9.79, -0.51), (-9.58, -0.46), (-9.17, -0.4), (-8.75, -0.51), (-8.44, -0.23), (-8.65, -0.79),
             (-8.13, -0.73), (-8.02, -0.9), (-7.71, -0.57), (-7.29, -0.62), (-6.88, -0.34), (-6.46, -0.57),
             (-6.04, -0.46), (-5.63, -0.57), (-5.42, -0.34), (-9.38, -1.29), (-8.13, -1.34), (-8.13, -1.73),
             (-6.88, -1.46), (-6.56, -1.66), (-9.33, -2.12), (-8.92, -2.01), (-7.5, -2.07), (-5.25, -1.81),
             (-5.63, -2.32), (-5.1, -2.32), (-5.0, -2.29),
             (-4.79, -1.12), (-4.48, -1.23), (-4.17, -1.01), (-3.96, -1.23), (-3.54, -1.12), (-3.02, -1.12),
             (-4.27, -2.07), (-4.17, -2.01), (-2.4, -1.51), (-2.19, -1.84), (-2.12, -1.96), (-4.69, -1.46),
             (-4.38, -0.79), (-3.96, -0.57), (-3.33, -0.68), (-2.92, -0.46), (-2.5, -0.68), (-2.29, -0.51),
             (-4.9, -0.9), (-3.54, -1.4), (-9.0, -0.6), (-7.0, -0.45), (-6.2, -0.7), (-5.3, -0.55),
             (-4.6, -0.5), (-3.7, -0.6), (-3.1, -0.8), (-2.7, -0.9), (-4.0, -0.4)]


def xy(pairs):
    a = np.array(pairs, dtype=float)
    return a[:, 0], a[:, 1]


def gather(*groups):
    xs, ys = [], []
    for g in groups:
        if isinstance(g, tuple):
            xs.append(np.asarray(g[0], dtype=float))
            ys.append(np.asarray(g[1], dtype=float))
        else:
            gx, gy = xy(g)
            xs.append(gx)
            ys.append(gy)
    return 10.0 ** np.concatenate(xs), np.concatenate(ys)


plt.rcParams["font.family"] = ["DejaVu Sans"]
BLUE = "#0000ff"
AXC = "#262626"

fig = plt.figure(figsize=(5.2, 3.94), dpi=100)


def make_ax(left, top, right, bottom):
    W, H = 520.0, 394.0
    return fig.add_axes([left / W, 1 - bottom / H, (right - left) / W, (bottom - top) / H])


def style(ax, xlo, xhi, ylim, yticks, xticks, scale=1.0, offset=None):
    ax.set_xscale("log")
    ax.set_xlim(10.0 ** xlo, 10.0 ** xhi)
    ax.set_ylim(*ylim)
    labels = {1e-10: r"$10^{-10}$", 1e-5: r"$10^{-5}$"}
    ax.set_xticks(xticks)
    ax.set_xticklabels([labels[t] for t in xticks])
    ax.xaxis.set_minor_locator(FixedLocator(10.0 ** np.arange(-9, -1)))
    ax.xaxis.set_minor_formatter(NullFormatter())
    ax.set_yticks(yticks)
    ax.yaxis.set_major_formatter(FuncFormatter(lambda v, _: f"{v / scale:g}"))
    ax.tick_params(which="both", direction="in", top=True, right=True,
                   colors=AXC, labelsize=7.5, width=0.6)
    ax.tick_params(which="major", length=3)
    ax.tick_params(which="minor", length=2)
    ax.tick_params(axis="x", pad=5)
    for s in ax.spines.values():
        s.set_color(AXC)
        s.set_linewidth(0.7)
    if offset:
        ax.text(0.0, 1.015, offset, transform=ax.transAxes, ha="left", va="bottom",
                fontsize=7.5, color=AXC)


def scatter(ax, x, y):
    ax.plot(x, y, "x", color=BLUE, ms=4.2, mew=0.85, zorder=2)


def vline(ax):
    ax.axvline(1e-5, color="black", lw=1.0, zorder=3)


# ATP
ax = make_ax(53, 25, 179, 168)
x, y = gather((atp_band_logx, atp_band_y), (atp_band2_logx, atp_band2_y), atp_mid, atp_low, atp_right_low)
scatter(ax, x, y)
vline(ax)
ax.axhline(2.15, color="black", lw=1.0, zorder=3)
style(ax, -10, -2.12, (0, 2.95), [0.5, 1, 1.5, 2, 2.5], [1e-10, 1e-5])
ax.set_title("ATP", fontsize=8.5, fontweight="bold", pad=3)
ax.set_ylabel("Concentration (mM)", fontsize=8.5, color=AXC, labelpad=3)

# LAC
ax = make_ax(222, 25, 347, 168)
x, y = gather(lac_sparse, (lac_floor_logx, lac_floor_y), lac_floor2)
scatter(ax, x, y)
vline(ax)
ax.axhline(0.003, color="black", lw=1.0, zorder=3)
style(ax, -9.92, -2.1, (-0.001, 0.187), [0.05, 0.1, 0.15], [1e-5])
ax.set_title("LAC", fontsize=8.5, fontweight="bold", pad=3)

# PALM
ax = make_ax(389, 25, 516, 168)
x, y = gather((palm_bot_logx, palm_bot_y), (palm_bot2_logx, palm_bot2_y), palm_mid, palm_top)
scatter(ax, x, y * 1e-3)
vline(ax)
ax.axhline(1.59e-3, color="black", lw=1.0, zorder=3)
style(ax, -10, -2.06, (-0.02e-3, 2.48e-3), [0.5e-3, 1e-3, 1.5e-3, 2e-3], [1e-10, 1e-5],
      scale=1e-3, offset=r"$\times10^{-3}$")
ax.set_title("PALM", fontsize=8.5, fontweight="bold", pad=3)

# NADP/NADPH
ax = make_ax(53, 228, 179, 371)
x, y = gather((nadp_floor_logx, nadp_floor_y), nadp_dense, nadp_upper, nadp_sparse, nadp_right)
scatter(ax, x, y)
vline(ax)
style(ax, -9.92, -2.04, (-0.02, 3.35), [0.5, 1, 1.5, 2, 2.5, 3], [1e-5])
ax.set_title("NADP/NADPH", fontsize=8.5, fontweight="bold", pad=3)
ax.set_ylabel("Ratio", fontsize=8.5, color=AXC, labelpad=3)

# NAD/NADH
ax = make_ax(222, 228, 347, 371)
x, y = gather(nad_sparse, nad_mid, (nad_low_logx, nad_low_y), (nad_low2_logx, nad_low2_y))
scatter(ax, x, y)
vline(ax)
ax.axhline(0.274, color="black", lw=1.0, zorder=3)
style(ax, -9.92, -2.1, (0, 0.755), [0.2, 0.4, 0.6], [1e-5])
ax.set_title("NAD/NADH", fontsize=8.5, fontweight="bold", pad=3)

# v_CITS
ax = make_ax(389, 228, 516, 371)
x, y = gather((vc_band_logx, vc_band_y), (vc_band2_logx, vc_band2_y), vc_mid, vc_sparse)
scatter(ax, x, y * 1e-5)
vline(ax)
ax.axhline(0.2e-5, color="black", lw=1.4, zorder=3)
ax.axhline(0.0, color="red", lw=1.0, zorder=4)
style(ax, -9.92, -2.06, (-2.47e-5, 2.33e-5), [-2e-5, -1e-5, 0, 1e-5, 2e-5], [1e-5],
      scale=1e-5, offset=r"$\times10^{-5}$")
ax.set_title(r"$\nu_{\mathbf{CITS}}$", fontsize=10, pad=2)
ax.set_ylabel("Vitesse (mM/h)", fontsize=8.5, color=AXC, labelpad=1)

fig.savefig("out.png", dpi=100)
